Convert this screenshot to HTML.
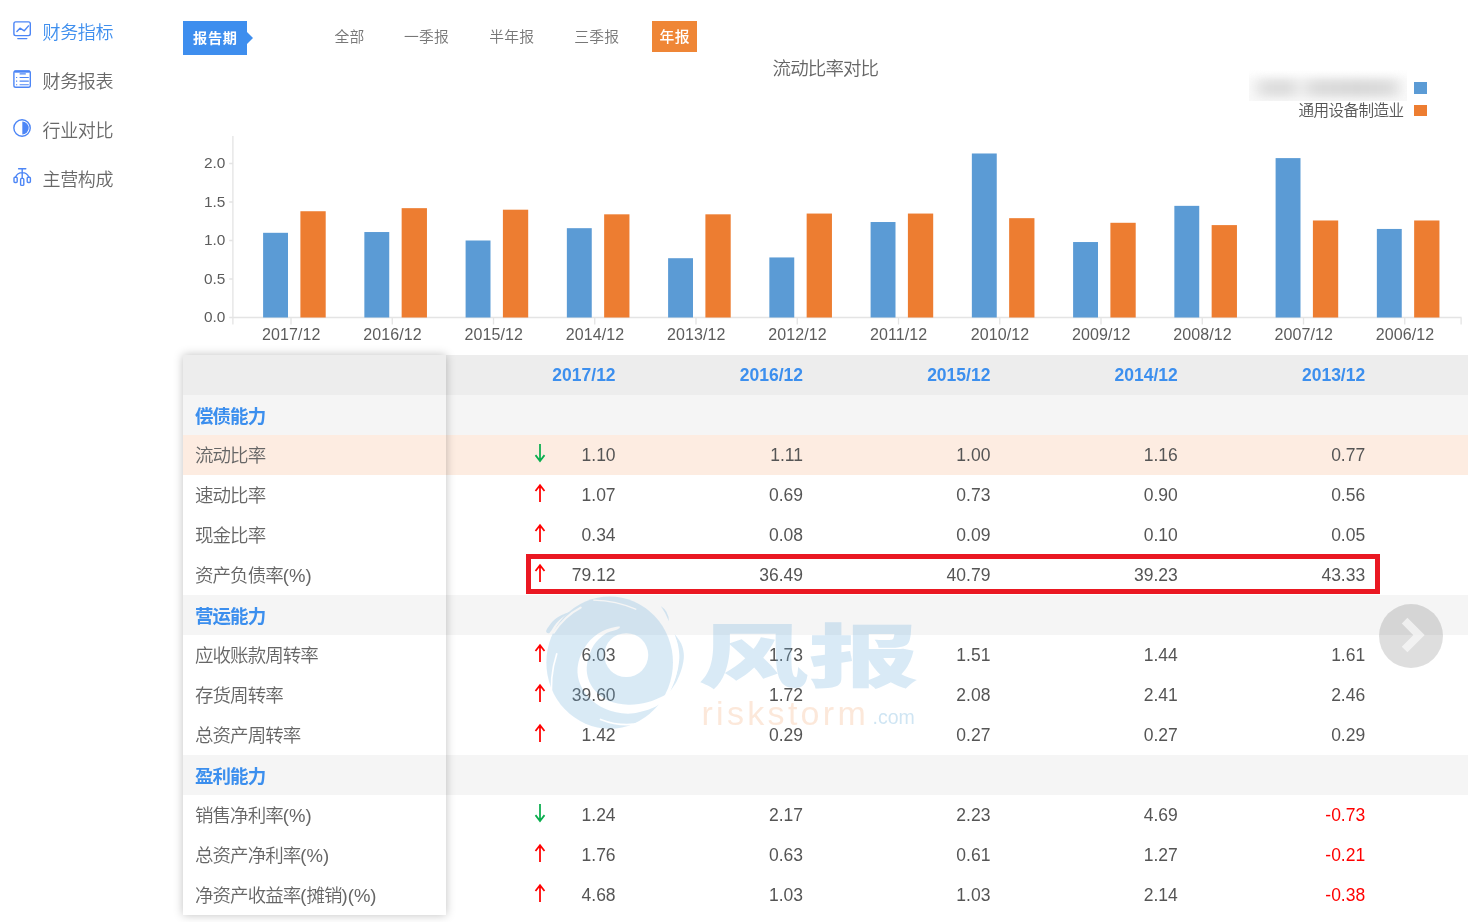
<!DOCTYPE html>
<html lang="zh-CN">
<head>
<meta charset="utf-8">
<title>财务指标 - 流动比率对比</title>
<style>
*{box-sizing:border-box;margin:0;padding:0}
html,body{width:1481px;height:922px;background:#fff;overflow:hidden}
body{position:relative;font-family:"Liberation Sans","Noto Sans CJK SC",sans-serif;color:#666}
.abs{position:absolute}
.side{position:absolute;left:42.6px;font-size:18px;letter-spacing:-0.4px;line-height:24px;height:24px;white-space:nowrap;color:#686868;font-weight:350}
.side.on{color:#3f8fee}
.icon{position:absolute;left:0;top:0}
.tag{position:absolute;left:183px;top:21px;width:64px;height:34px;background:#3e8eee;color:#fff;font-weight:700;font-size:14.2px;letter-spacing:0.75px;text-indent:0.75px;line-height:34px;text-align:center;white-space:nowrap}
.tag:after{content:"";position:absolute;left:63.8px;top:10.6px;border-left:6.6px solid #3e8eee;border-top:6.2px solid transparent;border-bottom:6.2px solid transparent}
.tab{position:absolute;top:21px;height:31px;line-height:32.4px;font-size:14.8px;letter-spacing:0.2px;color:#777;white-space:nowrap;font-weight:350}
.tab.on{background:#ef8636;color:#fff;font-weight:500;width:45px;text-align:center;letter-spacing:0.3px;text-indent:0.3px}
.title{position:absolute;left:725.4px;width:200px;top:57px;text-align:center;font-size:18.5px;letter-spacing:-0.9px;line-height:24px;color:#666;font-weight:350;white-space:nowrap}
.leg{position:absolute;right:77.5px;top:99.8px;font-size:15.6px;letter-spacing:-0.6px;line-height:22px;color:#555;white-space:nowrap;font-weight:350}
.blurbox{position:absolute;left:1249px;top:70px;width:158px;height:31px;overflow:hidden;background:linear-gradient(to bottom,#fff,#fafafa 35%,#f9f9f9)}
.blur{position:absolute;left:4px;top:9px;width:150px;height:18px;background:linear-gradient(90deg,#efefef,#dedede 10%,#dcdcdc 22%,#ededed 32%,#dcdcdc 42%,#d8d8d8 70%,#dcdcdc 90%,#efefef);filter:blur(4.5px);border-radius:6px}
svg text{font-family:"Liberation Sans",sans-serif;font-size:16px;fill:#5c5c5c;letter-spacing:.1px}
.row{position:absolute;left:183px;width:1285px;height:40px;background:#fff}
.row.hd{background:#ededed}
.row.cat{background:#f5f5f5}
.row.hl{background:#fdece1}
.v{position:absolute;top:0;line-height:40px;font-size:17.5px;color:#555;white-space:nowrap}
.v.h{color:#3c8fee;font-weight:700}
.v.neg{color:#ff0000}
.ar{position:absolute;left:351.2px;top:8px;width:12px;height:20px}
.left{position:absolute;left:183px;top:355px;width:263px;height:560px;background:#fff;box-shadow:0 0 9px rgba(0,0,0,.25)}
.lrow{position:absolute;left:0;width:263px;height:40px;background:#fff;padding-left:12px;line-height:42.4px;font-size:18.5px;color:#666;white-space:nowrap;font-weight:350;letter-spacing:-0.95px}
.lrow i{font-style:normal;letter-spacing:0}
.lrow.hd{background:#ededed}
.lrow.cat{background:#f5f5f5;color:#3c8fee;font-weight:700;line-height:44.2px}
.lrow.hl{background:#fdece1}
.redbox{position:absolute;left:526px;top:554px;width:854px;height:40px;border:5px solid #ea1822}
.next{position:absolute;left:1379px;top:604px;width:64px;height:64px;border-radius:50%;background:rgba(0,0,0,.13)}
.wm{position:absolute;left:0;top:0;width:1481px;height:922px;pointer-events:none}
.wmtxt{position:absolute;left:698px;top:607.2px;font-family:"Noto Sans CJK SC",sans-serif;font-weight:900;font-size:69px;line-height:90px;color:rgba(110,175,220,.26);transform-origin:0 0;transform:scale(1.6,1);white-space:nowrap;letter-spacing:0}
.wmrs{position:absolute;left:701.5px;top:692.5px;font-size:34px;line-height:40px;color:rgba(240,140,70,.2);letter-spacing:3.3px;white-space:nowrap}
.wmcom{position:absolute;left:872.5px;top:705px;font-size:19.5px;line-height:24px;color:rgba(110,175,220,.33);white-space:nowrap}
</style>
</head>
<body>
<!-- sidebar -->
<svg class="icon" width="40" height="200" viewBox="0 0 40 200" fill="none" stroke="#4d86f6" stroke-width="1.4" stroke-linecap="round" stroke-linejoin="round">
 <rect x="13.9" y="21.9" width="16.4" height="13.7" rx="1.8"/>
 <path d="M17.8 38.6H26.8M16.9 31.5L20 28.2L24.3 30.8L28.5 25.9"/>
 <rect x="13.9" y="71" width="16.4" height="16.2" rx="1.8"/>
 <path d="M14.4 71.6H29.8" stroke-width="2.2" stroke-linecap="butt"/>
 <path d="M19.6 73.9H25.8M19.6 77.5H28.8M19.6 81.1H28.8M19.6 84.7H28.8M16 77.5h1.2M16 81.1h1.2M16 84.7h1.2" stroke-width="1.15" stroke-linecap="butt"/>
 <circle cx="22.05" cy="128" r="8.2"/>
 <path d="M22.3 121.6A6.4 6.4 0 0 1 22.3 134.4Z" fill="#4d86f6" stroke="none"/>
 <path d="M18.6 168.8H25.8M22.2 168.8V178M15.6 177A7.15 7.15 0 0 1 28.8 177"/>
 <rect x="14" y="177.3" width="3.2" height="5.2" rx="1"/>
 <rect x="20.6" y="178.4" width="3.2" height="7" rx="1"/>
 <rect x="27.2" y="177.3" width="3.2" height="5.2" rx="1"/>
</svg>
<div class="side on" style="top:20.6px">财务指标</div>
<div class="side" style="top:69.6px">财务报表</div>
<div class="side" style="top:118.6px">行业对比</div>
<div class="side" style="top:167.6px">主营构成</div>

<!-- tabs -->
<div class="tag">报告期</div>
<div class="tab" style="left:334.6px">全部</div>
<div class="tab" style="left:404px">一季报</div>
<div class="tab" style="left:489.2px">半年报</div>
<div class="tab" style="left:574.3px">三季报</div>
<div class="tab on" style="left:652px">年报</div>

<!-- chart -->
<div class="title">流动比率对比</div>
<div class="blurbox"><div class="blur"></div></div>
<div class="leg">通用设备制造业</div>
<div class="abs" style="left:1414px;top:82px;width:13px;height:12px;background:#5b9bd5"></div>
<div class="abs" style="left:1414px;top:105px;width:13px;height:11px;background:#ed7d31"></div>
<svg class="abs" style="left:0;top:0" width="1481" height="352" viewBox="0 0 1481 352">
<path d="M232.9 136V324.6M229.2 317.5H1461.6M1461.1 317.5V324.6" stroke="#e4e4e4" stroke-width="1.3" fill="none"/>
<path d="M229.2 279.00H233M229.2 240.50H233M229.2 202.00H233M229.2 163.50H233M291.00 317.5V324.6M392.25 317.5V324.6M493.50 317.5V324.6M594.75 317.5V324.6M696.00 317.5V324.6M797.25 317.5V324.6M898.50 317.5V324.6M999.75 317.5V324.6M1101.00 317.5V324.6M1202.25 317.5V324.6M1303.50 317.5V324.6M1404.75 317.5V324.6" stroke="#e4e4e4" stroke-width="1.3" fill="none"/>
<rect x="263.10" y="232.80" width="24.9" height="84.70" fill="#5b9bd5"/>
<rect x="300.40" y="211.24" width="25.3" height="106.26" fill="#ed7d31"/>
<rect x="364.35" y="232.03" width="24.9" height="85.47" fill="#5b9bd5"/>
<rect x="401.65" y="208.16" width="25.3" height="109.34" fill="#ed7d31"/>
<rect x="465.60" y="240.50" width="24.9" height="77.00" fill="#5b9bd5"/>
<rect x="502.90" y="209.70" width="25.3" height="107.80" fill="#ed7d31"/>
<rect x="566.85" y="228.18" width="24.9" height="89.32" fill="#5b9bd5"/>
<rect x="604.15" y="214.32" width="25.3" height="103.18" fill="#ed7d31"/>
<rect x="668.10" y="258.21" width="24.9" height="59.29" fill="#5b9bd5"/>
<rect x="705.40" y="214.32" width="25.3" height="103.18" fill="#ed7d31"/>
<rect x="769.35" y="257.44" width="24.9" height="60.06" fill="#5b9bd5"/>
<rect x="806.65" y="213.55" width="25.3" height="103.95" fill="#ed7d31"/>
<rect x="870.60" y="222.02" width="24.9" height="95.48" fill="#5b9bd5"/>
<rect x="907.90" y="213.55" width="25.3" height="103.95" fill="#ed7d31"/>
<rect x="971.85" y="153.49" width="24.9" height="164.01" fill="#5b9bd5"/>
<rect x="1009.15" y="218.17" width="25.3" height="99.33" fill="#ed7d31"/>
<rect x="1073.10" y="242.04" width="24.9" height="75.46" fill="#5b9bd5"/>
<rect x="1110.40" y="222.79" width="25.3" height="94.71" fill="#ed7d31"/>
<rect x="1174.35" y="205.85" width="24.9" height="111.65" fill="#5b9bd5"/>
<rect x="1211.65" y="225.10" width="25.3" height="92.40" fill="#ed7d31"/>
<rect x="1275.60" y="158.11" width="24.9" height="159.39" fill="#5b9bd5"/>
<rect x="1312.90" y="220.48" width="25.3" height="97.02" fill="#ed7d31"/>
<rect x="1376.85" y="228.95" width="24.9" height="88.55" fill="#5b9bd5"/>
<rect x="1414.15" y="220.48" width="25.3" height="97.02" fill="#ed7d31"/>
<text x="291.20" y="339.8" text-anchor="middle">2017/12</text>
<text x="392.45" y="339.8" text-anchor="middle">2016/12</text>
<text x="493.70" y="339.8" text-anchor="middle">2015/12</text>
<text x="594.95" y="339.8" text-anchor="middle">2014/12</text>
<text x="696.20" y="339.8" text-anchor="middle">2013/12</text>
<text x="797.45" y="339.8" text-anchor="middle">2012/12</text>
<text x="898.70" y="339.8" text-anchor="middle">2011/12</text>
<text x="999.95" y="339.8" text-anchor="middle">2010/12</text>
<text x="1101.20" y="339.8" text-anchor="middle">2009/12</text>
<text x="1202.45" y="339.8" text-anchor="middle">2008/12</text>
<text x="1303.70" y="339.8" text-anchor="middle">2007/12</text>
<text x="1404.95" y="339.8" text-anchor="middle">2006/12</text>
<text x="225.4" y="322.00" text-anchor="end" style="font-size:15.4px;letter-spacing:0">0.0</text>
<text x="225.4" y="283.50" text-anchor="end" style="font-size:15.4px;letter-spacing:0">0.5</text>
<text x="225.4" y="245.00" text-anchor="end" style="font-size:15.4px;letter-spacing:0">1.0</text>
<text x="225.4" y="206.50" text-anchor="end" style="font-size:15.4px;letter-spacing:0">1.5</text>
<text x="225.4" y="168.00" text-anchor="end" style="font-size:15.4px;letter-spacing:0">2.0</text>
</svg>

<!-- table -->
<div class="row hd" style="top:355px"><span class="v h" style="right:852.4px">2017/12</span><span class="v h" style="right:665.0px">2016/12</span><span class="v h" style="right:477.6px">2015/12</span><span class="v h" style="right:290.2px">2014/12</span><span class="v h" style="right:102.8px">2013/12</span></div>
<div class="row cat" style="top:395px"></div>
<div class="row hl" style="top:435px"><svg class="ar" viewBox="0 0 12 20"><path d="M6 1V17.8M1.5 12.1L6 18L10.5 12.1" fill="none" stroke="#0aae4e" stroke-width="1.75" stroke-linejoin="miter"/></svg><span class="v" style="right:852.4px">1.10</span><span class="v" style="right:665.0px">1.11</span><span class="v" style="right:477.6px">1.00</span><span class="v" style="right:290.2px">1.16</span><span class="v" style="right:102.8px">0.77</span></div>
<div class="row " style="top:475px"><svg class="ar" viewBox="0 0 12 20"><path d="M6 2.3V19.1M1.5 8L6 2.1L10.5 8" fill="none" stroke="#ff0000" stroke-width="1.75" stroke-linejoin="miter"/></svg><span class="v" style="right:852.4px">1.07</span><span class="v" style="right:665.0px">0.69</span><span class="v" style="right:477.6px">0.73</span><span class="v" style="right:290.2px">0.90</span><span class="v" style="right:102.8px">0.56</span></div>
<div class="row " style="top:515px"><svg class="ar" viewBox="0 0 12 20"><path d="M6 2.3V19.1M1.5 8L6 2.1L10.5 8" fill="none" stroke="#ff0000" stroke-width="1.75" stroke-linejoin="miter"/></svg><span class="v" style="right:852.4px">0.34</span><span class="v" style="right:665.0px">0.08</span><span class="v" style="right:477.6px">0.09</span><span class="v" style="right:290.2px">0.10</span><span class="v" style="right:102.8px">0.05</span></div>
<div class="row " style="top:555px"><svg class="ar" viewBox="0 0 12 20"><path d="M6 2.3V19.1M1.5 8L6 2.1L10.5 8" fill="none" stroke="#ff0000" stroke-width="1.75" stroke-linejoin="miter"/></svg><span class="v" style="right:852.4px">79.12</span><span class="v" style="right:665.0px">36.49</span><span class="v" style="right:477.6px">40.79</span><span class="v" style="right:290.2px">39.23</span><span class="v" style="right:102.8px">43.33</span></div>
<div class="row cat" style="top:595px"></div>
<div class="row " style="top:635px"><svg class="ar" viewBox="0 0 12 20"><path d="M6 2.3V19.1M1.5 8L6 2.1L10.5 8" fill="none" stroke="#ff0000" stroke-width="1.75" stroke-linejoin="miter"/></svg><span class="v" style="right:852.4px">6.03</span><span class="v" style="right:665.0px">1.73</span><span class="v" style="right:477.6px">1.51</span><span class="v" style="right:290.2px">1.44</span><span class="v" style="right:102.8px">1.61</span></div>
<div class="row " style="top:675px"><svg class="ar" viewBox="0 0 12 20"><path d="M6 2.3V19.1M1.5 8L6 2.1L10.5 8" fill="none" stroke="#ff0000" stroke-width="1.75" stroke-linejoin="miter"/></svg><span class="v" style="right:852.4px">39.60</span><span class="v" style="right:665.0px">1.72</span><span class="v" style="right:477.6px">2.08</span><span class="v" style="right:290.2px">2.41</span><span class="v" style="right:102.8px">2.46</span></div>
<div class="row " style="top:715px"><svg class="ar" viewBox="0 0 12 20"><path d="M6 2.3V19.1M1.5 8L6 2.1L10.5 8" fill="none" stroke="#ff0000" stroke-width="1.75" stroke-linejoin="miter"/></svg><span class="v" style="right:852.4px">1.42</span><span class="v" style="right:665.0px">0.29</span><span class="v" style="right:477.6px">0.27</span><span class="v" style="right:290.2px">0.27</span><span class="v" style="right:102.8px">0.29</span></div>
<div class="row cat" style="top:755px"></div>
<div class="row " style="top:795px"><svg class="ar" viewBox="0 0 12 20"><path d="M6 1V17.8M1.5 12.1L6 18L10.5 12.1" fill="none" stroke="#0aae4e" stroke-width="1.75" stroke-linejoin="miter"/></svg><span class="v" style="right:852.4px">1.24</span><span class="v" style="right:665.0px">2.17</span><span class="v" style="right:477.6px">2.23</span><span class="v" style="right:290.2px">4.69</span><span class="v neg" style="right:102.8px">-0.73</span></div>
<div class="row " style="top:835px"><svg class="ar" viewBox="0 0 12 20"><path d="M6 2.3V19.1M1.5 8L6 2.1L10.5 8" fill="none" stroke="#ff0000" stroke-width="1.75" stroke-linejoin="miter"/></svg><span class="v" style="right:852.4px">1.76</span><span class="v" style="right:665.0px">0.63</span><span class="v" style="right:477.6px">0.61</span><span class="v" style="right:290.2px">1.27</span><span class="v neg" style="right:102.8px">-0.21</span></div>
<div class="row " style="top:875px"><svg class="ar" viewBox="0 0 12 20"><path d="M6 2.3V19.1M1.5 8L6 2.1L10.5 8" fill="none" stroke="#ff0000" stroke-width="1.75" stroke-linejoin="miter"/></svg><span class="v" style="right:852.4px">4.68</span><span class="v" style="right:665.0px">1.03</span><span class="v" style="right:477.6px">1.03</span><span class="v" style="right:290.2px">2.14</span><span class="v neg" style="right:102.8px">-0.38</span></div>
<div class="left">
<div class="lrow hd" style="top:0"></div>
<div class="lrow cat" style="top:40px"><span>偿债能力</span></div>
<div class="lrow hl" style="top:80px"><span>流动比率</span></div>
<div class="lrow " style="top:120px"><span>速动比率</span></div>
<div class="lrow " style="top:160px"><span>现金比率</span></div>
<div class="lrow " style="top:200px"><span>资产负债率<i>(%)</i></span></div>
<div class="lrow cat" style="top:240px"><span>营运能力</span></div>
<div class="lrow " style="top:280px"><span>应收账款周转率</span></div>
<div class="lrow " style="top:320px"><span>存货周转率</span></div>
<div class="lrow " style="top:360px"><span>总资产周转率</span></div>
<div class="lrow cat" style="top:400px"><span>盈利能力</span></div>
<div class="lrow " style="top:440px"><span>销售净利率<i>(%)</i></span></div>
<div class="lrow " style="top:480px"><span>总资产净利率<i>(%)</i></span></div>
<div class="lrow " style="top:520px"><span>净资产收益率<i>(</i>摊销<i>)(%)</i></span></div>
</div>
<div class="redbox"></div>

<!-- watermark -->
<svg class="wm" viewBox="0 0 1481 922">
 <defs>
  <mask id="swm" maskUnits="userSpaceOnUse" x="-100" y="-100" width="1200" height="1200">
   <rect x="-100" y="-100" width="1200" height="1200" fill="#fff"/>
   <circle cx="530" cy="400" r="135" fill="#000"/>
   <path fill="#000" d="M480 225C463 228 412 238 380 255C348 272 314 298 290 330C266 362 243 412 235 450C227 488 229 525 240 560C251 595 273 632 300 660C327 688 360 713 400 730C440 747 493 760 540 760C587 760 640 745 680 730C720 715 754 689 780 670C806 651 838 618 835 615C832 612 789 638 760 650C731 662 697 681 660 690C623 699 580 707 540 705C500 703 453 694 420 680C387 666 361 643 340 620C319 597 303 568 295 540C287 512 284 483 290 450C296 417 312 370 330 340C348 310 375 287 400 270C425 253 467 248 480 240C493 232 497 222 480 225Z"/>
   <path fill="none" stroke="#000" stroke-width="10" stroke-linecap="round" d="M103 392Q55 540 76 700Q85 760 108 805"/>
   <path fill="none" stroke="#000" stroke-width="8" stroke-linecap="round" d="M330 62Q470 66 588 118"/>
   <path fill="none" stroke="#000" stroke-width="9" stroke-linecap="round" d="M705 118Q770 190 795 262"/>
   <path fill="none" stroke="#000" stroke-width="10" stroke-linecap="round" d="M372 795Q545 862 700 790"/>
   <path fill="none" stroke="#000" stroke-width="13" stroke-linecap="round" d="M84 262Q150 160 250 108"/>
   <path fill="none" stroke="#000" stroke-width="9" stroke-linecap="round" d="M822 268Q880 440 800 612"/>
  </mask>
 </defs>
 <g transform="translate(540,590) scale(0.16276)" fill="#6eafdc" opacity=".26" mask="url(#swm)">
  <ellipse cx="428" cy="446" rx="389" ry="406"/>
  <path d="M826 272C830 272 858 309 868 330C878 351 883 375 884 400C885 425 879 453 872 480C865 507 852 537 840 560C828 583 801 621 800 618C799 615 824 565 832 540C840 515 846 493 850 470C854 447 857 423 856 400C855 377 851 351 846 330C841 309 822 272 826 272Z"/>
  <path d="M38 250C41 238 65 206 80 190C95 174 112 164 130 155C148 146 185 132 188 133C191 134 165 148 150 160C135 172 115 188 100 205C85 222 70 254 60 262C50 270 35 262 38 250Z"/>
  <path d="M742 98Q792 130 792 192Q772 140 742 98Z"/>
 </g>
</svg>
<div class="wmtxt">风报</div>
<div class="wmrs">riskstorm</div>
<div class="wmcom">.com</div>

<!-- next button -->
<div class="next"><svg width="64" height="64" viewBox="0 0 64 64"><path d="M25.6 16.7L40 31.1L25.6 45.5" fill="none" stroke="rgba(255,255,255,.62)" stroke-width="8" stroke-linejoin="miter"/></svg></div>
</body>
</html>
